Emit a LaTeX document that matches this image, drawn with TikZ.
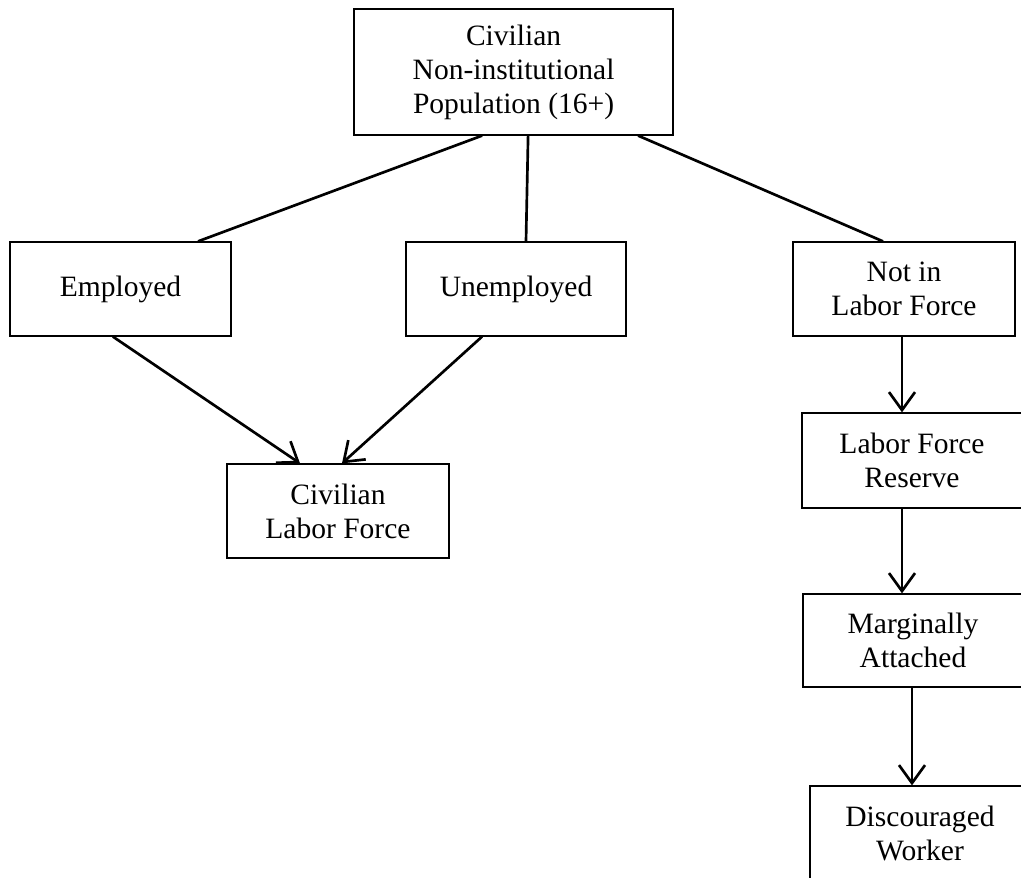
\documentclass[tikz,border=0pt]{standalone}
\usepackage{fontspec}
\setmainfont{Liberation Serif}
\usepackage{tikz}
\usetikzlibrary{arrows.meta}

\begin{document}
\begin{tikzpicture}[
  box/.style={
    draw, line width=0.9pt, align=center, inner sep=0pt,
    minimum width=5.5cm, minimum height=2.35cm,
    font=\fontsize{21pt}{24.2pt}\selectfont
  },
  link/.style={line width=1.9pt},
  flow/.style={
    line width=1.9pt,
    -{Straight Barb[length=0.45cm,width=0.65cm,line width=1.9pt]}
  }
]
  \useasboundingbox (0,0) rectangle (25.525,-21.95);
  \node[box, minimum width=7.975cm, minimum height=3.15cm] (pop) at (12.84,-1.8)
    {Civilian\\Non-institutional\\Population (16+)};
  \node[box, minimum width=5.525cm] (emp) at (3.0125,-7.225){Employed};
  \node[box] (unemp) at (12.9,-7.225){Unemployed};
  \node[box, minimum width=5.55cm] (notlf) at (22.6,-7.225){Not in\\Labor Force};
  \node[box, minimum width=5.55cm] (clf) at (8.45,-12.775){Civilian\\Labor Force};
  \node[box, minimum height=2.375cm] (lfr) at (22.8,-11.5125){Labor Force\\Reserve};
  \node[box, minimum height=2.325cm] (marg) at (22.825,-16.0125){Marginally\\Attached};
  \node[box] (disc) at (23.0,-20.825){Discouraged\\Worker};
  % population splits
  \draw[link] ([xshift=-0.7875cm]pop.south) -- ([xshift=1.9375cm]emp.north);
  \draw[link] ([xshift=0.3625cm]pop.south) -- ([xshift=0.25cm]unemp.north);
  \draw[link] ([xshift=3.1125cm]pop.south) -- ([xshift=-0.525cm]notlf.north);
  % labor force
  \draw[flow] ([xshift=-0.19cm]emp.south) -- ([xshift=-0.95cm]clf.north);
  \draw[flow] ([xshift=-0.85cm]unemp.south) -- ([xshift=0.1cm]clf.north);
  % outside the labor force
  \draw[flow] ([xshift=-0.05cm]notlf.south) -- ([xshift=-0.25cm]lfr.north);
  \draw[flow] ([xshift=-0.25cm]lfr.south) -- ([xshift=-0.275cm]marg.north);
  \draw[flow] ([xshift=-0.025cm]marg.south) -- ([xshift=-0.2cm]disc.north);
\end{tikzpicture}
\end{document}
